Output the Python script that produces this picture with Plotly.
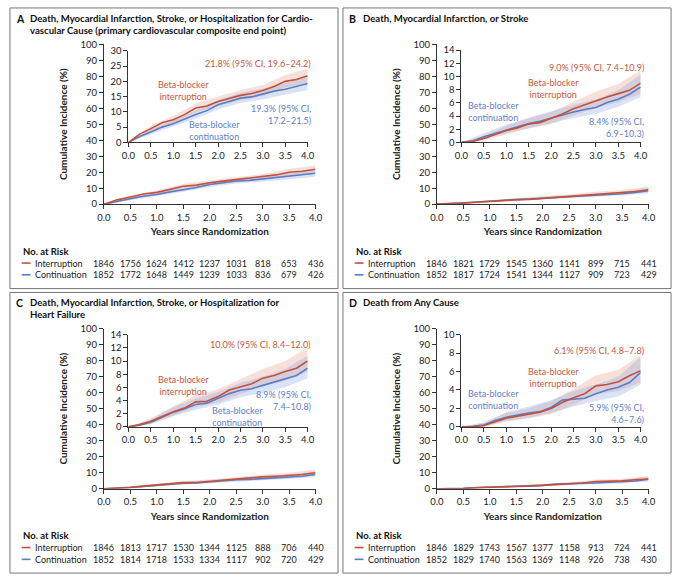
import plotly.graph_objects as go

# Years since randomization (curve points) and CI points
T = [0, 0.25, 0.5, 0.75, 1.0, 1.25, 1.5, 1.75, 2.0, 2.25, 2.5, 2.75, 3.0, 3.25, 3.5, 3.75, 4.0]
T_CI = [0, 0.5, 1.0, 1.5, 2.0, 2.5, 3.0, 3.5, 4.0]
RISK_T = [0, 0.5, 1.0, 1.5, 2.0, 2.5, 3.0, 3.5, 4.0]

# Panel A
A_INT = [0, 2.7, 4.5, 6.4, 7.4, 9.1, 11.25, 11.9, 13.4, 14.4, 15.4, 16.0, 17.0, 18.3, 20.0, 20.6, 21.8]
A_CON = [0, 1.9, 3.4, 5.0, 6.1, 7.7, 9.1, 10.4, 12.3, 13.4, 14.5, 14.9, 15.8, 16.8, 17.4, 18.4, 19.3]
A_INT_LO = [0, 3.6, 6.3, 9.9, 11.9, 13.8, 15.3, 18.0, 19.6]
A_INT_HI = [0, 5.5, 8.6, 12.7, 15.0, 17.1, 18.8, 22.1, 24.2]
A_CON_LO = [0, 2.6, 5.1, 7.8, 10.8, 12.9, 14.1, 15.6, 17.2]
A_CON_HI = [0, 4.3, 7.2, 10.5, 13.9, 16.2, 17.6, 19.4, 21.5]
A_RISK_INT = [1846, 1756, 1624, 1412, 1237, 1031, 818, 653, 436]
A_RISK_CON = [1852, 1772, 1648, 1449, 1239, 1033, 836, 679, 426]

# Panel B
B_INT = [0, 0.15, 0.6, 1.2, 1.8, 2.2, 2.8, 3.0, 3.6, 4.3, 5.1, 5.7, 6.4, 6.9, 7.4, 7.9, 9.0]
B_CON = [0, 0.2, 0.85, 1.35, 1.95, 2.35, 2.85, 3.2, 3.7, 4.2, 4.6, 5.0, 5.3, 6.05, 6.55, 7.3, 8.4]
B_INT_LO = [0, 0.3, 1.2, 2.1, 2.8, 4.1, 5.2, 6.1, 7.4]
B_INT_HI = [0, 1.0, 2.5, 3.7, 4.6, 6.2, 7.7, 8.9, 10.9]
B_CON_LO = [0, 0.5, 1.4, 2.1, 2.9, 3.7, 4.3, 5.4, 6.9]
B_CON_HI = [0, 1.3, 2.7, 3.7, 4.7, 5.7, 6.5, 7.9, 10.3]
B_RISK_INT = [1846, 1821, 1729, 1545, 1360, 1141, 899, 715, 441]
B_RISK_CON = [1852, 1817, 1724, 1541, 1344, 1127, 909, 723, 429]

# Panel C
C_INT = [0, 0.35, 0.85, 1.6, 2.3, 2.85, 3.8, 3.9, 4.6, 5.6, 6.05, 6.55, 7.4, 7.8, 8.4, 8.9, 10.0]
C_CON = [0, 0.25, 0.7, 1.45, 2.2, 2.75, 3.4, 3.6, 4.3, 5.05, 5.55, 5.8, 6.3, 6.8, 7.3, 7.8, 8.9]
C_INT_LO = [0, 0.5, 1.7, 3.0, 3.7, 5.0, 6.2, 7.0, 8.4]
C_INT_HI = [0, 1.3, 3.1, 4.8, 5.7, 7.3, 8.8, 10.0, 12.0]
C_CON_LO = [0, 0.4, 1.6, 2.6, 3.4, 4.5, 5.2, 6.0, 7.4]
C_CON_HI = [0, 1.1, 3.0, 4.3, 5.3, 6.7, 7.6, 8.8, 10.8]
C_RISK_INT = [1846, 1813, 1717, 1530, 1344, 1125, 888, 706, 440]
C_RISK_CON = [1852, 1814, 1718, 1533, 1334, 1117, 902, 720, 429]

# Panel D
D_INT = [0, 0.0, 0.15, 0.55, 0.95, 1.15, 1.4, 1.6, 2.0, 2.65, 3.15, 3.6, 4.45, 4.6, 4.9, 5.55, 6.1]
D_CON = [0, 0.05, 0.2, 0.7, 1.05, 1.3, 1.5, 1.65, 2.1, 2.9, 3.0, 3.1, 3.6, 4.0, 4.3, 4.8, 5.9]
D_INT_LO = [0, 0.0, 0.6, 0.9, 1.4, 2.4, 3.5, 3.9, 4.8]
D_INT_HI = [0, 0.4, 1.5, 2.0, 2.8, 4.1, 5.6, 6.2, 7.8]
D_CON_LO = [0, 0.05, 0.6, 1.0, 1.5, 2.2, 2.8, 3.3, 4.6]
D_CON_HI = [0, 0.5, 1.6, 2.2, 2.9, 3.9, 4.6, 5.4, 7.6]
D_RISK_INT = [1846, 1829, 1743, 1567, 1377, 1158, 913, 724, 441]
D_RISK_CON = [1852, 1829, 1740, 1563, 1369, 1148, 926, 738, 430]

RED = "#C4523A"
BLUE = "#5B7EC6"
RED_TXT = "#C8583E"
BLUE_TXT = "#5F80C8"
RED_BAND = "rgba(230,160,140,0.32)"
BLUE_BAND = "rgba(140,165,225,0.32)"
FONT = "Lato"
W, H = 680, 581


def px(x):
    return x / W


def py(y):
    return 1 - y / H


panels = [
    dict(letter="A",
         title="Death, Myocardial Infarction, Stroke, or Hospitalization for Cardio-<br>vascular Cause (primary cardiovascular composite end point)",
         ox=0, oy=0, inset_top=45.7, inset_max=30, inset_dtick=5,
         curves=(A_INT, A_CON), bands=(A_INT_LO, A_INT_HI, A_CON_LO, A_CON_HI),
         risk=(A_RISK_INT, A_RISK_CON),
         notes=[("21.8% (95% CI, 19.6–24.2)", RED_TXT, 4.0, 26.0, "right"),
                ("Beta-blocker<br>interruption", RED_TXT, 1.22, 17.0, "center"),
                ("19.3% (95% CI,<br>17.2–21.5)", BLUE_TXT, 4.0, 9.0, "right"),
                ("Beta-blocker<br>continuation", BLUE_TXT, 1.92, 4.0, "center")]),
    dict(letter="B", title="Death, Myocardial Infarction, or Stroke",
         ox=340, oy=0, inset_top=45, inset_max=14, inset_dtick=2,
         curves=(B_INT, B_CON), bands=(B_INT_LO, B_INT_HI, B_CON_LO, B_CON_HI),
         risk=(B_RISK_INT, B_RISK_CON),
         notes=[("9.0% (95% CI, 7.4–10.9)", RED_TXT, 4.0, 11.3, "right"),
                ("Beta-blocker<br>interruption", RED_TXT, 2.05, 8.2, "center"),
                ("Beta-blocker<br>continuation", BLUE_TXT, 0.72, 4.7, "center"),
                ("8.4% (95% CI,<br>6.9–10.3)", BLUE_TXT, 4.0, 2.3, "right")]),
    dict(letter="C",
         title="Death, Myocardial Infarction, Stroke, or Hospitalization for<br>Heart Failure",
         ox=0, oy=290, inset_top=45, inset_max=14, inset_dtick=2,
         curves=(C_INT, C_CON), bands=(C_INT_LO, C_INT_HI, C_CON_LO, C_CON_HI),
         risk=(C_RISK_INT, C_RISK_CON),
         notes=[("10.0% (95% CI, 8.4–12.0)", RED_TXT, 4.0, 12.5, "right"),
                ("Beta-blocker<br>interruption", RED_TXT, 1.22, 6.3, "center"),
                ("8.9% (95% CI,<br>7.4–10.8)", BLUE_TXT, 4.0, 4.0, "right"),
                ("Beta-blocker<br>continuation", BLUE_TXT, 2.43, 1.6, "center")]),
    dict(letter="D", title="Death from Any Cause",
         ox=340, oy=290, inset_top=45, inset_max=10, inset_dtick=2,
         curves=(D_INT, D_CON), bands=(D_INT_LO, D_INT_HI, D_CON_LO, D_CON_HI),
         risk=(D_RISK_INT, D_RISK_CON),
         notes=[("6.1% (95% CI, 4.8–7.8)", RED_TXT, 4.0, 8.3, "right"),
                ("Beta-blocker<br>interruption", RED_TXT, 2.05, 5.4, "center"),
                ("Beta-blocker<br>continuation", BLUE_TXT, 0.72, 3.0, "center"),
                ("5.9% (95% CI,<br>4.6–7.6)", BLUE_TXT, 4.0, 1.5, "right")]),
]

fig = go.Figure()
layout = {}
annotations = []
shapes = []

axis_common = dict(
    showline=True, linecolor="#333", linewidth=1,
    ticks="outside", ticklen=4, tickwidth=1, tickcolor="#333",
    showgrid=False, zeroline=False,
    tickfont=dict(family=FONT, size=9.5, color="#222"),
)

for i, p in enumerate(panels):
    ox, oy = p["ox"], p["oy"]
    n_main = 2 * i + 1
    n_ins = 2 * i + 2
    xm = "x" if n_main == 1 else f"x{n_main}"
    ym = "y" if n_main == 1 else f"y{n_main}"
    xi, yi = f"x{n_ins}", f"y{n_ins}"
    key = lambda a, n: a + ("axis" if n == 1 else f"axis{n}")

    # main axes
    layout[key("x", n_main)] = dict(
        axis_common, domain=[px(ox + 99), px(ox + 315)], range=[0, 4],
        dtick=0.5, tickformat=".1f", anchor=ym,
        title=dict(text="Years since Randomization", standoff=6,
                   font=dict(family=FONT, size=10, color="#222", weight="bold")),
    )
    layout[key("y", n_main)] = dict(
        axis_common, domain=[py(oy + 202), py(oy + 39)], range=[0, 100],
        dtick=10, anchor=xm,
        title=dict(text="Cumulative Incidence (%)", standoff=11,
                   font=dict(family=FONT, size=10, color="#222", weight="bold")),
    )
    # inset axes
    layout[key("x", n_ins)] = dict(
        axis_common, domain=[px(ox + 124), px(ox + 307)], range=[0, 4],
        dtick=0.5, tickformat=".1f", anchor=yi,
    )
    layout[key("y", n_ins)] = dict(
        axis_common, domain=[py(oy + 139), py(oy + p["inset_top"])],
        range=[0, p["inset_max"]], dtick=p["inset_dtick"], anchor=xi,
    )

    int_c, con_c = p["curves"]
    ilo, ihi, clo, chi = p["bands"]
    for xa, ya in ((xm, ym), (xi, yi)):
        for lo, hi, band in ((ilo, ihi, RED_BAND), (clo, chi, BLUE_BAND)):
            fig.add_trace(go.Scatter(x=T_CI, y=lo, mode="lines", line=dict(width=0),
                                     xaxis=xa, yaxis=ya, showlegend=False, hoverinfo="skip"))
            fig.add_trace(go.Scatter(x=T_CI, y=hi, mode="lines", line=dict(width=0),
                                     fill="tonexty", fillcolor=band,
                                     xaxis=xa, yaxis=ya, showlegend=False, hoverinfo="skip"))
        fig.add_trace(go.Scatter(x=T, y=con_c, mode="lines", line=dict(color=BLUE, width=1.6),
                                 xaxis=xa, yaxis=ya, showlegend=False))
        fig.add_trace(go.Scatter(x=T, y=int_c, mode="lines", line=dict(color=RED, width=1.6),
                                 xaxis=xa, yaxis=ya, showlegend=False))

    # in-plot labels
    for text, color, x, y, anchor in p["notes"]:
        annotations.append(dict(
            text=text, x=x, y=y, xref=xi, yref=yi, xanchor=anchor, yanchor="middle",
            xshift=5 if anchor == "right" else 0,
            align=anchor, showarrow=False, font=dict(family=FONT, size=9, color=color),
        ))

    # panel title
    annotations.append(dict(
        text=f"<b>{p['letter']}</b>", x=px(ox + 7), y=py(oy + 5), xref="paper", yref="paper",
        xanchor="left", yanchor="top", showarrow=False,
        font=dict(family=FONT, size=10.5, color="#111"),
    ))
    annotations.append(dict(
        text=f"<b>{p['title']}</b>", x=px(ox + 21), y=py(oy + 5), xref="paper", yref="paper",
        xanchor="left", yanchor="top", align="left", showarrow=False,
        font=dict(family=FONT, size=9.6, color="#111"),
    ))

    # number at risk table
    annotations.append(dict(
        text="<b>No. at Risk</b>", x=px(ox + 14), y=py(oy + 250), xref="paper", yref="paper",
        xanchor="left", yanchor="middle", showarrow=False,
        font=dict(family=FONT, size=9.5, color="#111"),
    ))
    for row_y, label, color, counts in ((262, "Interruption", RED, p["risk"][0]),
                                        (274, "Continuation", BLUE, p["risk"][1])):
        shapes.append(dict(type="line", xref="paper", yref="paper",
                           x0=px(ox + 15), x1=px(ox + 24), y0=py(oy + row_y), y1=py(oy + row_y),
                           line=dict(color=color, width=1.6)))
        annotations.append(dict(
            text=label, x=px(ox + 27), y=py(oy + row_y), xref="paper", yref="paper",
            xanchor="left", yanchor="middle", showarrow=False,
            font=dict(family=FONT, size=9, color="#222"),
        ))
        for t, n in zip(RISK_T, counts):
            annotations.append(dict(
                text=str(n), x=t, y=py(oy + row_y), xref=xm, yref="paper",
                xanchor="center", yanchor="middle", showarrow=False,
                font=dict(family=FONT, size=9, color="#222"),
            ))

    # panel border
    shapes.append(dict(type="rect", xref="paper", yref="paper",
                       x0=px(ox + 3), x1=px(ox + 338), y0=py(oy + 288), y1=py(oy + 2),
                       line=dict(color="#777", width=1)))

fig.update_layout(
    width=W, height=H,
    margin=dict(l=0, r=0, t=0, b=0),
    paper_bgcolor="white", plot_bgcolor="white",
    font=dict(family=FONT, size=9.5, color="#222"),
    showlegend=False,
    annotations=annotations,
    shapes=shapes,
    **layout,
)

fig.write_html("out.html", config={"displayModeBar": False},
               post_script="document.body.style.margin='0px';")
